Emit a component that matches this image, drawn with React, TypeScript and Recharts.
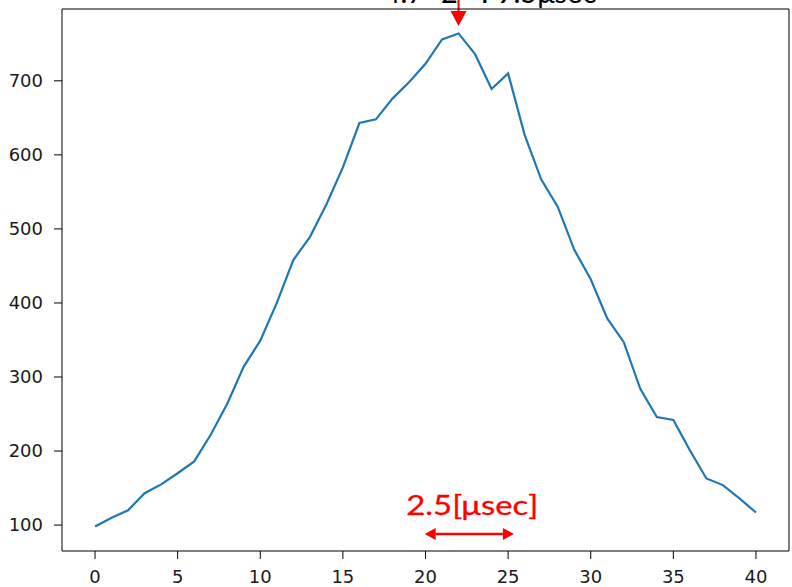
import { Line, LineChart, ReferenceLine, XAxis, YAxis } from "recharts";

// sample index 0..40
const samples = [
  0, 1, 2, 3, 4, 5, 6, 7, 8, 9, 10, 11, 12, 13, 14, 15, 16, 17, 18, 19, 20,
  21, 22, 23, 24, 25, 26, 27, 28, 29, 30, 31, 32, 33, 34, 35, 36, 37, 38, 39, 40,
];
const counts = [
  98, 110, 120, 143, 155, 170, 186, 222, 264, 314, 349, 400, 458, 489, 533,
  583, 643, 648, 676, 698, 723, 756, 764, 736, 689, 710, 627, 567, 530, 472,
  432, 379, 347, 284, 246, 242, 201, 163, 154, 136, 117,
];
const xTicks = [0, 5, 10, 15, 20, 25, 30, 35, 40];
const yTicks = [100, 200, 300, 400, 500, 600, 700];

const data = samples.map((s, i) => ({ s, v: counts[i] }));

const RED = "#ff0000";
const tickStyle = { fontFamily: "DejaVu Sans", fontSize: 18, fill: "#1a1a1a" };

// down arrow pointing at the peak
const PeakArrow = (p: any) => {
  const { x1, y1, y2 } = p;
  return (
    <g>
      <line x1={x1} y1={y1} x2={x1} y2={y2 - 14} stroke={RED} strokeWidth={2} />
      <polygon points={`${x1 - 8},${y2 - 15} ${x1 + 8},${y2 - 15} ${x1},${y2}`} fill={RED} />
    </g>
  );
};

// double arrow with width label
const WidthArrow = (p: any) => {
  const { x1, x2, y1 } = p;
  const h = 11;
  return (
    <g>
      <line x1={x1 + h} y1={y1} x2={x2 - h} y2={y1} stroke={RED} strokeWidth={2.5} />
      <polygon points={`${x1},${y1} ${x1 + h},${y1 - 6} ${x1 + h},${y1 + 6}`} fill={RED} />
      <polygon points={`${x2},${y1} ${x2 - h},${y1 - 6} ${x2 - h},${y1 + 6}`} fill={RED} />
      <text
        x={(x1 + x2) / 2 + 3}
        y={y1 - 19}
        textAnchor="middle"
        fill={RED}
        stroke={RED}
        strokeWidth={0.3}
        fontFamily="Lato"
        fontSize={27}
        textLength={132}
        lengthAdjust="spacingAndGlyphs"
      >
        2.5[μsec]
      </text>
    </g>
  );
};

export default function App() {
  return (
    <div style={{ position: "absolute", left: 0, top: 0, width: 792, height: 587, background: "#fff" }}>
      <LineChart
        width={792}
        height={587}
        data={data}
        margin={{ top: 8, right: 2, bottom: 0, left: 0 }}
        style={{ overflow: "visible" }}
      >
        <XAxis
          dataKey="s"
          type="number"
          domain={[-2, 42]}
          ticks={xTicks}
          height={36}
          tickSize={8}
          tickMargin={11}
          stroke="#000"
          tick={tickStyle}
        />
        <XAxis xAxisId="top" orientation="top" dataKey="s" type="number" domain={[-2, 42]} height={1} tick={false} tickLine={false} stroke="#000" />
        <YAxis
          type="number"
          domain={[65, 797]}
          ticks={yTicks}
          width={62}
          tickSize={8}
          tickMargin={11}
          stroke="#000"
          tick={tickStyle}
        />
        <YAxis yAxisId="right" orientation="right" type="number" domain={[65, 797]} width={1} tick={false} tickLine={false} stroke="#000" />
        <Line
          dataKey="v"
          stroke="#1f77b4"
          strokeWidth={2.2}
          dot={false}
          isAnimationActive={false}
        />
        <ReferenceLine
          segment={[{ x: 22, y: 810 }, { x: 22, y: 774 }]}
          ifOverflow="visible"
          shape={PeakArrow}
        />
        <ReferenceLine
          segment={[{ x: 19.95, y: 88 }, { x: 25.35, y: 88 }]}
          ifOverflow="visible"
          shape={WidthArrow}
        />
        <text x={490} y={3} textAnchor="middle" fontFamily="Lato" fontSize={29} fill="#000">
          4.7×2 ≒ 9.5μsec
        </text>
      </LineChart>
    </div>
  );
}
